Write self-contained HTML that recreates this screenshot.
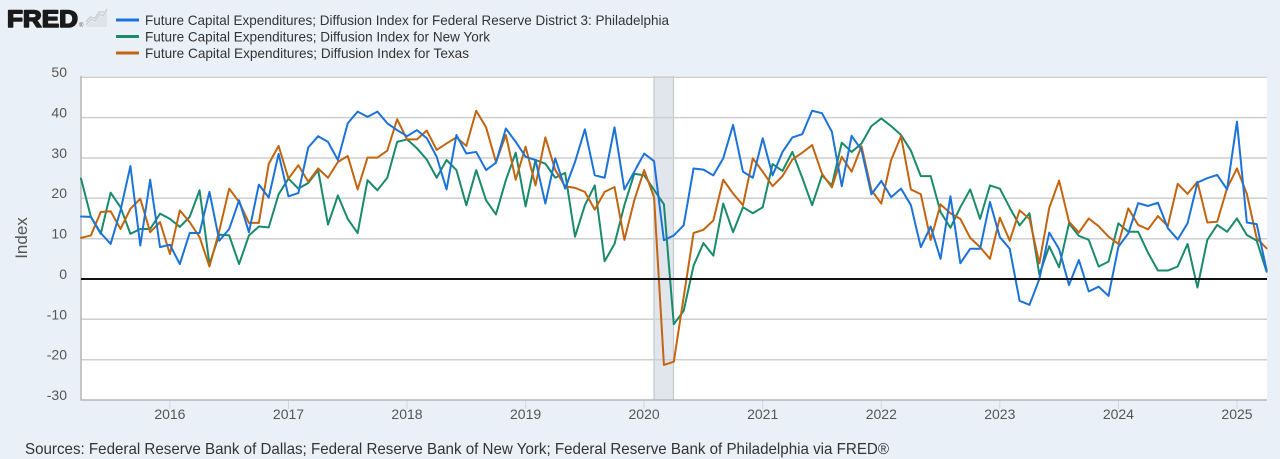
<!DOCTYPE html>
<html>
<head>
<meta charset="utf-8">
<style>
html,body{margin:0;padding:0;background:#eaf0f8;}
svg{display:block;}
</style>
</head>
<body>
<svg width="1280" height="459" viewBox="0 0 1280 459" xmlns="http://www.w3.org/2000/svg" font-family="'Liberation Sans', Arial, sans-serif">
  <rect x="0" y="0" width="1280" height="459" fill="#eaf0f8"/>
  <!-- FRED logo -->
  <text x="7" y="27" font-size="24" font-weight="700" fill="#1a1a1a" stroke="#1a1a1a" stroke-width="1.6" stroke-linejoin="round" textLength="71" lengthAdjust="spacingAndGlyphs">FRED</text>
  <text x="79" y="27" font-size="6" fill="#555">®</text>
  <g fill="none" stroke="#c9ccd2" stroke-width="1.3">
    <polyline points="86,25 91,19 95,21 100,14 103,16 107,9"/>
    <polyline points="86,22 90,17 95,18 99,12 104,12"/>
  </g>
  <path d="M86,27 L91,21 L95,23 L100,16 L103,18 L107,11 L107,27 Z" fill="#dfe2e7"/>

  <!-- Legend -->
  <line x1="116" y1="20" x2="139" y2="20" stroke="#1b73da" stroke-width="3"/>
  <line x1="116" y1="36.5" x2="139" y2="36.5" stroke="#1a8a6c" stroke-width="3"/>
  <line x1="116" y1="53" x2="139" y2="53" stroke="#c3650f" stroke-width="3"/>
  <g font-size="14" fill="#333">
    <text x="145" y="25" textLength="524" lengthAdjust="spacingAndGlyphs">Future Capital Expenditures; Diffusion Index for Federal Reserve District 3: Philadelphia</text>
    <text x="145" y="41.5" textLength="345" lengthAdjust="spacingAndGlyphs">Future Capital Expenditures; Diffusion Index for New York</text>
    <text x="145" y="58" textLength="324" lengthAdjust="spacingAndGlyphs">Future Capital Expenditures; Diffusion Index for Texas</text>
  </g>

  <!-- Plot area -->
  <rect x="81" y="76" width="1186" height="324" fill="#ffffff"/>
  <!-- recession -->
  <rect x="653.5" y="76" width="20.5" height="324" fill="#e1e5ec"/>
  <line x1="654" y1="76" x2="654" y2="400" stroke="#c5c9cf" stroke-width="1.2"/>
  <line x1="673.5" y1="76" x2="673.5" y2="400" stroke="#c5c9cf" stroke-width="1.2"/>

  <!-- gridlines -->
  <g stroke="#cfcfcf" stroke-width="1.5">
    <line x1="81" y1="77.3" x2="1267" y2="77.3"/>
    <line x1="81" y1="117.6" x2="1267" y2="117.6"/>
    <line x1="81" y1="158" x2="1267" y2="158"/>
    <line x1="81" y1="198.3" x2="1267" y2="198.3"/>
    <line x1="81" y1="238.7" x2="1267" y2="238.7"/>
    <line x1="81" y1="319.3" x2="1267" y2="319.3"/>
    <line x1="81" y1="359.7" x2="1267" y2="359.7"/>
  </g>
  <!-- x ticks -->
  <g stroke="#d3d8df" stroke-width="1">
    <line x1="169.9" y1="400" x2="169.9" y2="409"/>
    <line x1="288.5" y1="400" x2="288.5" y2="409"/>
    <line x1="407" y1="400" x2="407" y2="409"/>
    <line x1="525.6" y1="400" x2="525.6" y2="409"/>
    <line x1="644.1" y1="400" x2="644.1" y2="409"/>
    <line x1="762.7" y1="400" x2="762.7" y2="409"/>
    <line x1="881.3" y1="400" x2="881.3" y2="409"/>
    <line x1="999.8" y1="400" x2="999.8" y2="409"/>
    <line x1="1118.4" y1="400" x2="1118.4" y2="409"/>
    <line x1="1237" y1="400" x2="1237" y2="409"/>
  </g>
  <!-- axes -->
  <line x1="81" y1="76" x2="81" y2="400.5" stroke="#b3b6ba" stroke-width="1.5"/>
  <line x1="80.5" y1="400" x2="1267" y2="400" stroke="#b3b6ba" stroke-width="1.5"/>

  <!-- Series -->
  <g transform="matrix(9.88 0 0 -4.034 81 279)" fill="none" stroke-width="2" stroke-linejoin="round" stroke-linecap="round">
    <polyline vector-effect="non-scaling-stroke" stroke="#1a8a6c" points="0,24.9 1,15.4 2,11.2 3,21.4 4,17.8 5,11.2 6,12.4 7,12.4 8,16.2 9,14.9 10,12.9 11,15.4 12,22 13,3.7 14,11 15,10.8 16,3.7 17,10.8 18,13 19,12.8 20,21 21,24.9 22,22.4 23,23.8 24,27 25,13.5 26,20.7 27,14.9 28,11.4 29,24.5 30,22 31,25.1 32,34 33,34.6 34,32.4 35,29.6 36,25.1 37,29.5 38,27 39,18.3 40,27 41,19.5 42,16 43,24.5 44,31.3 45,18 46,29.5 47,28.6 48,25.1 49,26.3 50,10.5 51,18.3 52,23.2 53,4.4 54,8.7 55,18.3 56,26.1 57,25.7 58,22.1 59,18.5 60,-11.2 61,-7.9 62,3.3 63,8.9 64,5.8 65,18.7 66,11.6 67,17.8 68,16.3 69,17.8 70,28.5 71,26.8 72,31.5 73,25.1 74,18.3 75,25.7 76,23.2 77,33.8 78,31.5 79,33.6 80,37.9 81,39.8 82,37.9 83,35.7 84,31.8 85,25.5 86,25.5 87,16.6 88,12.7 89,17.8 90,22.2 91,14.9 92,23.2 93,22.4 94,17.7 95,13.3 96,16.3 97,1.1 98,8.1 99,2.9 100,13.8 101,10.7 102,9.7 103,3.1 104,4.3 105,13.8 106,11.7 107,11.7 108,6.5 109,2.1 110,2.1 111,3.1 112,8.7 113,-2.1 114,9.7 115,13.4 116,11.7 117,15 118,10.9 119,9.5 120,1.8"/>
    <polyline vector-effect="non-scaling-stroke" stroke="#c3650f" points="0,10.2 1,10.8 2,16.6 3,16.8 4,12.4 5,17.4 6,19.9 7,11.6 8,14.1 9,6.2 10,17 11,14.1 12,10.4 13,3.1 14,12 15,22.4 16,19.1 17,13.9 18,13.9 19,28.5 20,33 21,24.9 22,28.2 23,24.1 24,27.4 25,25.1 26,29 27,30.5 28,22.2 29,30.1 30,30.1 31,31.8 32,39.6 33,34.6 34,34.6 35,36.8 36,32 37,33.6 38,35.1 39,33 40,41.7 41,37.6 42,29 43,35.7 44,24.6 45,32.8 46,23.2 47,35.1 48,27 49,23 50,22.6 51,21.6 52,17.2 53,21.6 54,22.8 55,9.7 56,19.5 57,27 58,20.3 59,-21.3 60,-20.5 61,-4.5 62,11.4 63,12.2 64,14.5 65,24.6 66,21.2 67,18.3 68,29.9 69,26.6 70,23 71,25.5 72,29.6 73,31.3 74,33.2 75,26.1 76,22.7 77,30.3 78,26.6 79,32.9 80,22 81,18.7 82,29.5 83,35.4 84,22.2 85,21 86,9.7 87,18.5 88,16.3 89,14.9 90,10.2 91,7.9 92,5 93,15.2 94,9.5 95,17 96,14.9 97,3.9 98,17.6 99,24.4 100,14.2 101,11.5 102,15 103,13.1 104,10.5 105,8.7 106,17.5 107,13.4 108,12.3 109,15.6 110,13.1 111,23.6 112,21.1 113,24.1 114,14 115,14.2 116,22.5 117,27.4 118,21.1 119,10.1 120,7.6"/>
    <polyline vector-effect="non-scaling-stroke" stroke="#1b73da" points="0,15.5 1,15.4 2,11.4 3,8.7 4,17 5,28 6,8.3 7,24.6 8,7.9 9,8.5 10,3.7 11,11.4 12,11.4 13,21.6 14,9.5 15,12.4 16,19.5 17,11.6 18,23.4 19,20.2 20,31 21,20.5 22,21.3 23,32.6 24,35.4 25,34 26,29.5 27,38.6 28,41.5 29,40.2 30,41.5 31,38.6 32,36.9 33,35.4 34,36.9 35,34.9 36,30.3 37,22.2 38,35.7 39,31.1 40,31.5 41,27 42,28.8 43,37.3 44,34 45,30.3 46,29.5 47,18.7 48,29.9 49,22.4 50,29 51,37.1 52,25.7 53,25.1 54,37.6 55,22.2 56,26.6 57,31.1 58,29.2 59,9.6 60,10.8 61,13.3 62,27.4 63,27.1 64,25.7 65,29.9 66,38.2 67,26.6 68,25.1 69,34.9 70,25.7 71,31.5 72,35.1 73,35.9 74,41.7 75,41.1 76,36.5 77,23 78,35.5 79,32 80,21 81,24.3 82,20.3 83,22.4 84,18.3 85,7.9 86,13 87,5 88,20.5 89,3.9 90,7.5 91,7.5 92,19.1 93,10.4 94,7.5 95,-5.4 96,-6.4 97,0 98,11.5 99,7.4 100,-1.5 101,4.7 102,-3.1 103,-1.9 104,-4.2 105,8 106,11.3 107,18.8 108,18.1 109,18.9 110,12.6 111,9.8 112,13.8 113,23.9 114,25 115,25.8 116,22.2 117,39 118,14 119,13.6 120,2.2"/>
  </g>
  <!-- zero line -->
  <line x1="81" y1="279" x2="1267" y2="279" stroke="#111" stroke-width="2"/>

  <!-- Y labels -->
  <g font-size="14" fill="#555" text-anchor="end">
    <text x="67" y="77">50</text>
    <text x="67" y="117.5">40</text>
    <text x="67" y="158">30</text>
    <text x="67" y="198">20</text>
    <text x="67" y="238.5">10</text>
    <text x="67" y="279">0</text>
    <text x="67" y="319.5">-10</text>
    <text x="67" y="359.5">-20</text>
    <text x="67" y="400">-30</text>
  </g>
  <text transform="translate(27,238) rotate(-90)" font-size="17" fill="#555" text-anchor="middle">Index</text>

  <!-- X labels -->
  <g font-size="14" fill="#555" text-anchor="middle">
    <text x="169.9" y="419">2016</text>
    <text x="288.5" y="419">2017</text>
    <text x="407" y="419">2018</text>
    <text x="525.6" y="419">2019</text>
    <text x="644.1" y="419">2020</text>
    <text x="762.7" y="419">2021</text>
    <text x="881.3" y="419">2022</text>
    <text x="999.8" y="419">2023</text>
    <text x="1118.4" y="419">2024</text>
    <text x="1237" y="419">2025</text>
  </g>

  <!-- Sources -->
  <text x="25" y="454" font-size="16" fill="#333" textLength="864" lengthAdjust="spacingAndGlyphs">Sources: Federal Reserve Bank of Dallas; Federal Reserve Bank of New York; Federal Reserve Bank of Philadelphia via FRED®</text>
</svg>
</body>
</html>
